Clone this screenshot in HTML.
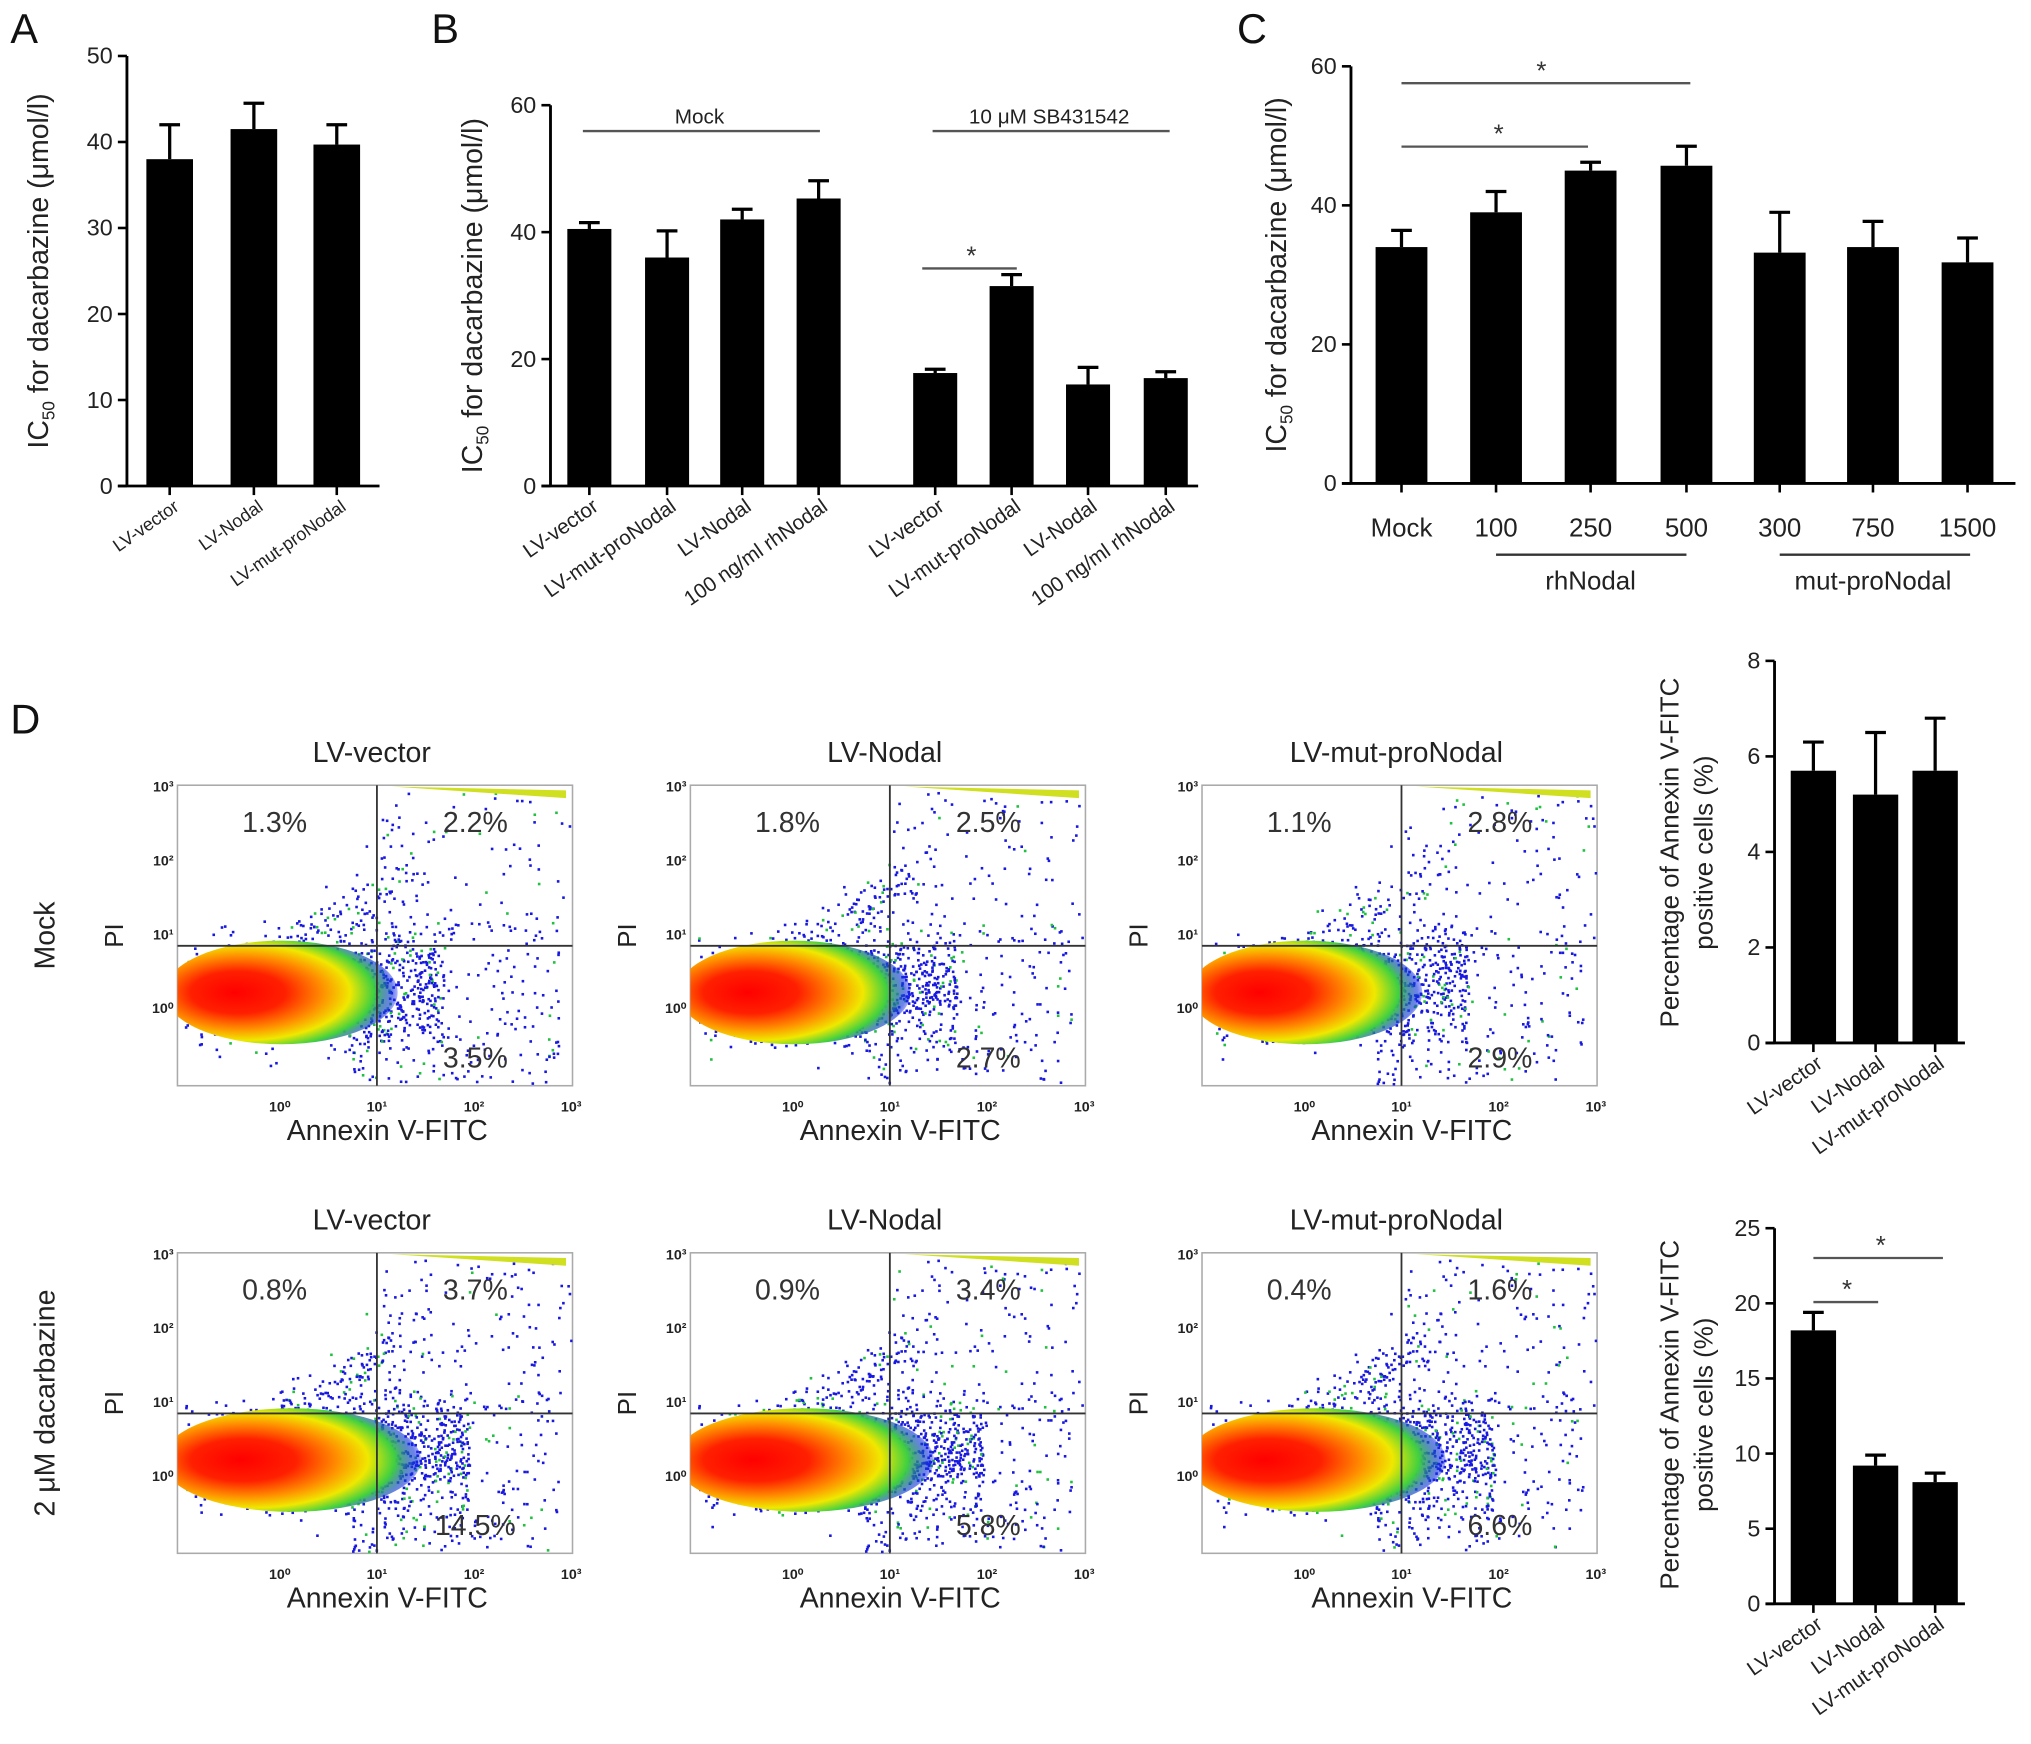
<!DOCTYPE html>
<html><head><meta charset="utf-8"><style>
html,body{margin:0;padding:0;background:#fff}
svg{display:block}
text{font-family:"Liberation Sans",Arial,sans-serif}
</style></head><body>
<svg id="fig" width="2031" height="1744" viewBox="0 0 1568 1346" xmlns="http://www.w3.org/2000/svg">
<defs>
<radialGradient id="blob" cx="0.35" cy="0.5" r="0.68" fx="0.3" fy="0.5">
<stop offset="0" stop-color="#ff0000"/><stop offset="0.3" stop-color="#ff2000"/>
<stop offset="0.52" stop-color="#ff9000"/><stop offset="0.68" stop-color="#f0e800"/>
<stop offset="0.82" stop-color="#40d040"/><stop offset="0.93" stop-color="#1030e0" stop-opacity="0.6"/><stop offset="1" stop-color="#2020ff" stop-opacity="0"/>
</radialGradient>
</defs>
<g id="root"></g>
</svg>
<script>
// ---- data ----
const aCats=["LV-vector","LV-Nodal","LV-mut-proNodal"];
const aVals=[38,41.5,39.7];
const aErr=[4,3,2.3];
const bCats=["LV-vector","LV-mut-proNodal","LV-Nodal","100 ng/ml rhNodal","LV-vector","LV-mut-proNodal","LV-Nodal","100 ng/ml rhNodal"];
const bVals=[40.5,36,42,45.3,17.8,31.5,16,17];
const bErr=[1,4.2,1.6,2.8,0.6,1.8,2.7,1];
const cCats=["Mock","100","250","500","300","750","1500"];
const cVals=[34,39,45,45.7,33.2,34,31.8];
const cErr=[2.4,3,1.2,2.8,5.8,3.7,3.5];
const d1Cats=["LV-vector","LV-Nodal","LV-mut-proNodal"];
const d1Vals=[5.7,5.2,5.7];
const d1Err=[0.6,1.3,1.1];
const d2Vals=[18.2,9.2,8.1];
const d2Err=[1.2,0.7,0.6];
const flowTitles=["LV-vector","LV-Nodal","LV-mut-proNodal"];
const flowPcts=[["1.3%","2.2%","3.5%"],["1.8%","2.5%","2.7%"],["1.1%","2.8%","2.9%"],
 ["0.8%","3.7%","14.5%"],["0.9%","3.4%","5.8%"],["0.4%","1.6%","6.6%"]];

const NS="http://www.w3.org/2000/svg";
const root=document.getElementById('root');
function mk(tag,attrs,parent,txt){const e=document.createElementNS(NS,tag);for(const k in attrs)e.setAttribute(k,attrs[k]);if(txt!==undefined)e.textContent=txt;(parent||root).appendChild(e);return e;}

function barChart(o){
 const g=mk('g',{});
 
 
 const y=v=>o.y0-(v/o.max)*(o.y0-o.yTop);
 const ax=mk('line',{x1:o.x0,y1:o.yTop,x2:o.x0,y2:o.y0,stroke:'#000','stroke-width':2.2},g);
 
 const xa=mk('line',{x1:o.x0-7,y1:o.y0,x2:o.xEnd,y2:o.y0,stroke:'#000','stroke-width':2.2},g);
 
 for(let t=0;t<=o.max;t+=o.step){
  mk('line',{x1:o.x0-7,y1:y(t),x2:o.x0,y2:y(t),stroke:'#000','stroke-width':2},g);
  const tl=mk('text',{x:o.x0-11,y:y(t)+6,'text-anchor':'end','font-size':o.fs||18,fill:'#222'},g,String(t));
  
 }
 o.vals.forEach((v,i)=>{
  const cx=o.cx[i];
  mk('line',{x1:cx,y1:y(v),x2:cx,y2:y(v+o.err[i]),stroke:'#000','stroke-width':2.5},g);
  mk('line',{x1:cx-8,y1:y(v+o.err[i]),x2:cx+8,y2:y(v+o.err[i]),stroke:'#000','stroke-width':2.5},g);
  const b=mk('rect',{x:cx-o.w/2,y:y(v),width:o.w,height:o.y0-y(v),fill:'#000'},g);
  
  mk('line',{x1:cx,y1:o.y0,x2:cx,y2:o.y0+7,stroke:'#000','stroke-width':2},g);
  if(o.rot){
   const l=mk('text',{x:cx+8,y:o.y0+18,'text-anchor':'end','font-size':o.lfs||14,fill:'#222',transform:`rotate(${o.rot} ${cx+8} ${o.y0+18})`},g,o.cats[i]);
   
  } else {
   const l=mk('text',{x:cx,y:o.y0+41,'text-anchor':'middle','font-size':o.lfs||20,fill:'#222'},g,o.cats[i]);
   
  }
 });
 return {g,y};
}
function ytitle(x,y,txt,fs,name,sub){
 const t=mk('text',{x:x,y:y,'text-anchor':'middle','font-size':fs,fill:'#222',transform:`rotate(-90 ${x} ${y})`});
 
 if(sub){mk('tspan',{},t,'IC');mk('tspan',{'font-size':fs*0.6,dy:5},t,'50');mk('tspan',{dy:-5},t,' for dacarbazine (μmol/l)');}
 else t.textContent=txt;
 return t;
}
function panel(x,y,l){const t=mk('text',{x:x,y:y,'font-size':32,fill:'#111'},root,l);}
function star(x1,x2,y,sx){mk('line',{x1,y1:y,x2,y2:y,stroke:'#555','stroke-width':1.8});const s=mk('text',{x:sx,y:y-3,'text-anchor':'middle','font-size':20,fill:'#333'},root,'*');}

panel(8,33,'A');panel(333,33,'B');panel(955,33,'C');panel(8,566,'D');

barChart({name:'chart-a',x0:98,y0:375,yTop:43,max:50,step:10,xEnd:293,cx:[131,196,260],w:36,vals:aVals,err:aErr,cats:aCats,rot:-35,lfs:14,fs:18});
ytitle(37,209,'',22,'y-axis-title-a',true);

barChart({name:'chart-b',x0:425,y0:375,yTop:81,max:60,step:20,xEnd:925,cx:[455,515,573,632,722,781,840,900],w:34,vals:bVals,err:bErr,cats:bCats,rot:-35,lfs:16,fs:18});
ytitle(372,228,'',22,'y-axis-title-b',true);
mk('line',{x1:450,y1:101,x2:633,y2:101,stroke:'#555','stroke-width':1.8});
let t=mk('text',{x:540,y:95,'text-anchor':'middle','font-size':16,fill:'#222'},root,'Mock');
mk('line',{x1:720,y1:101,x2:903,y2:101,stroke:'#555','stroke-width':1.8});
t=mk('text',{x:810,y:95,'text-anchor':'middle','font-size':16,fill:'#222'},root,'10 μM SB431542');
star(712,785,207,750);

barChart({name:'chart-c',x0:1043,y0:373,yTop:51,max:60,step:20,xEnd:1556,cx:[1082,1155,1228,1302,1374,1446,1519],w:40,vals:cVals,err:cErr,cats:cCats,lfs:20,fs:18});
ytitle(993,212,'',22,'y-axis-title-c',true);
star(1082,1305,64,1190);star(1082,1226,113,1157);
mk('line',{x1:1155,y1:428,x2:1302,y2:428,stroke:'#333','stroke-width':1.8});
mk('line',{x1:1374,y1:428,x2:1521,y2:428,stroke:'#333','stroke-width':1.8});
t=mk('text',{x:1228,y:455,'text-anchor':'middle','font-size':20,fill:'#222'},root,'rhNodal');
t=mk('text',{x:1446,y:455,'text-anchor':'middle','font-size':20,fill:'#222'},root,'mut-proNodal');

barChart({name:'chart-d-mock',x0:1370,y0:805,yTop:510,max:8,step:2,xEnd:1517,cx:[1400,1448,1494],w:35,vals:d1Vals,err:d1Err,cats:d1Cats,rot:-35,lfs:16,fs:18});
barChart({name:'chart-d-dacarbazine',x0:1370,y0:1238,yTop:948,max:25,step:5,xEnd:1517,cx:[1400,1448,1494],w:35,vals:d2Vals,err:d2Err,cats:d1Cats,rot:-35,lfs:16,fs:18});
star(1400,1450,1005,1426);star(1400,1500,971,1452);
[[1296,658],[1296,1092]].forEach(([x,y])=>{
 ytitle(x,y,'Percentage of Annexin V-FITC',20,'y-axis-title-d');
 ytitle(x+26,y,'positive cells (%)',20,'y-axis-title-d2');
});

// D flow plots
let seed=12345;function rnd(){seed=(seed*1103515245+12345)%2147483648;return seed/2147483648;}
function gauss(){return (rnd()+rnd()+rnd()-1.5)/1.5;}
const defs=document.querySelector('defs');
const colsX=[137,533,928], rowsY=[606,967];
const W=305,H=232,QX=154,QY=124;
for(let r=0;r<2;r++)for(let c=0;c<3;c++){
 const x0=colsX[c],y0=rowsY[r];const g=mk('g',{});
 
 
 const cp=mk('clipPath',{id:'cp'+r+c},defs);mk('rect',{x:x0,y:y0,width:W,height:H},cp);
 const tt=mk('text',{x:x0+150,y:y0-18,'text-anchor':'middle','font-size':22,fill:'#222'},g,flowTitles[c]);
 
 mk('rect',{x:x0,y:y0,width:W,height:H,fill:'#fff',stroke:'#aaa','stroke-width':1.2},g);
 const pg=mk('g',{'clip-path':`url(#cp${r}${c})`},g);
 const n=r==1?1500:1200;
 const ext=r==1?20:0;
 for(let i=0;i<n;i++){
  let px,py;const k=rnd();
  if(k<0.6){ // halo around main population
   px=x0+5+Math.pow(rnd(),0.8)*(200+ext);py=y0+158+gauss()*(55+rnd()*15);
  } else if(k<0.72){ // diagonal upward arm
   const u=rnd();px=x0+70+u*110+gauss()*35;py=y0+140-u*80+gauss()*30;
  } else if(k<0.92){ // lower right
   px=x0+QX-20+Math.pow(rnd(),1.4)*160;py=y0+105+rnd()*125;
  } else {px=x0+QX+rnd()*150;py=y0+5+rnd()*120;}
  mk('rect',{x:px,y:py,width:2,height:2,fill:i%8==0?'#20c040':'#1818e0'},pg);
 }
 mk('ellipse',{cx:x0+(r==1?88:80),cy:y0+160,rx:r==1?100:90,ry:40,fill:'url(#blob)'},pg);
 mk('path',{d:`M${x0+165} ${y0+1} L${x0+300} ${y0+4} L${x0+300} ${y0+10} Z`,fill:'#d0e020'},pg);
 mk('line',{x1:x0+QX,y1:y0,x2:x0+QX,y2:y0+H,stroke:'#333','stroke-width':1.4},g);
 mk('line',{x1:x0,y1:y0+QY,x2:x0+W,y2:y0+QY,stroke:'#333','stroke-width':1.4},g);
 const p=flowPcts[r*3+c];
 [[x0+75,y0+36,p[0]],[x0+230,y0+36,p[1]],[x0+230,y0+218,p[2]]].forEach(([x,y,s])=>{
  const q=mk('text',{x,y,'text-anchor':'middle','font-size':22,fill:'#333'},g,s);
  
 });
 ['10⁰','10¹','10²','10³'].forEach((s,i)=>{
  mk('text',{x:x0+79+i*75,y:y0+H+20,'text-anchor':'middle','font-size':11,'font-weight':'bold',fill:'#222'},g,s);
  mk('text',{x:x0-3,y:y0+176-i*57,'text-anchor':'end','font-size':11,'font-weight':'bold',fill:'#222'},g,s);
 });
 const xl=mk('text',{x:x0+162,y:y0+H+42,'text-anchor':'middle','font-size':22,fill:'#222'},g,'Annexin V-FITC');
 
 const yl=mk('text',{x:x0-42,y:y0+116,'text-anchor':'middle','font-size':20,fill:'#222',transform:`rotate(-90 ${x0-42} ${y0+116})`},g,'PI');
 
}
t=mk('text',{x:42,y:722,'text-anchor':'middle','font-size':22,fill:'#222',transform:'rotate(-90 42 722)'},root,'Mock');
t=mk('text',{x:42,y:1083,'text-anchor':'middle','font-size':22,fill:'#222',transform:'rotate(-90 42 1083)'},root,'2 μM dacarbazine');
</script>
</body></html>
